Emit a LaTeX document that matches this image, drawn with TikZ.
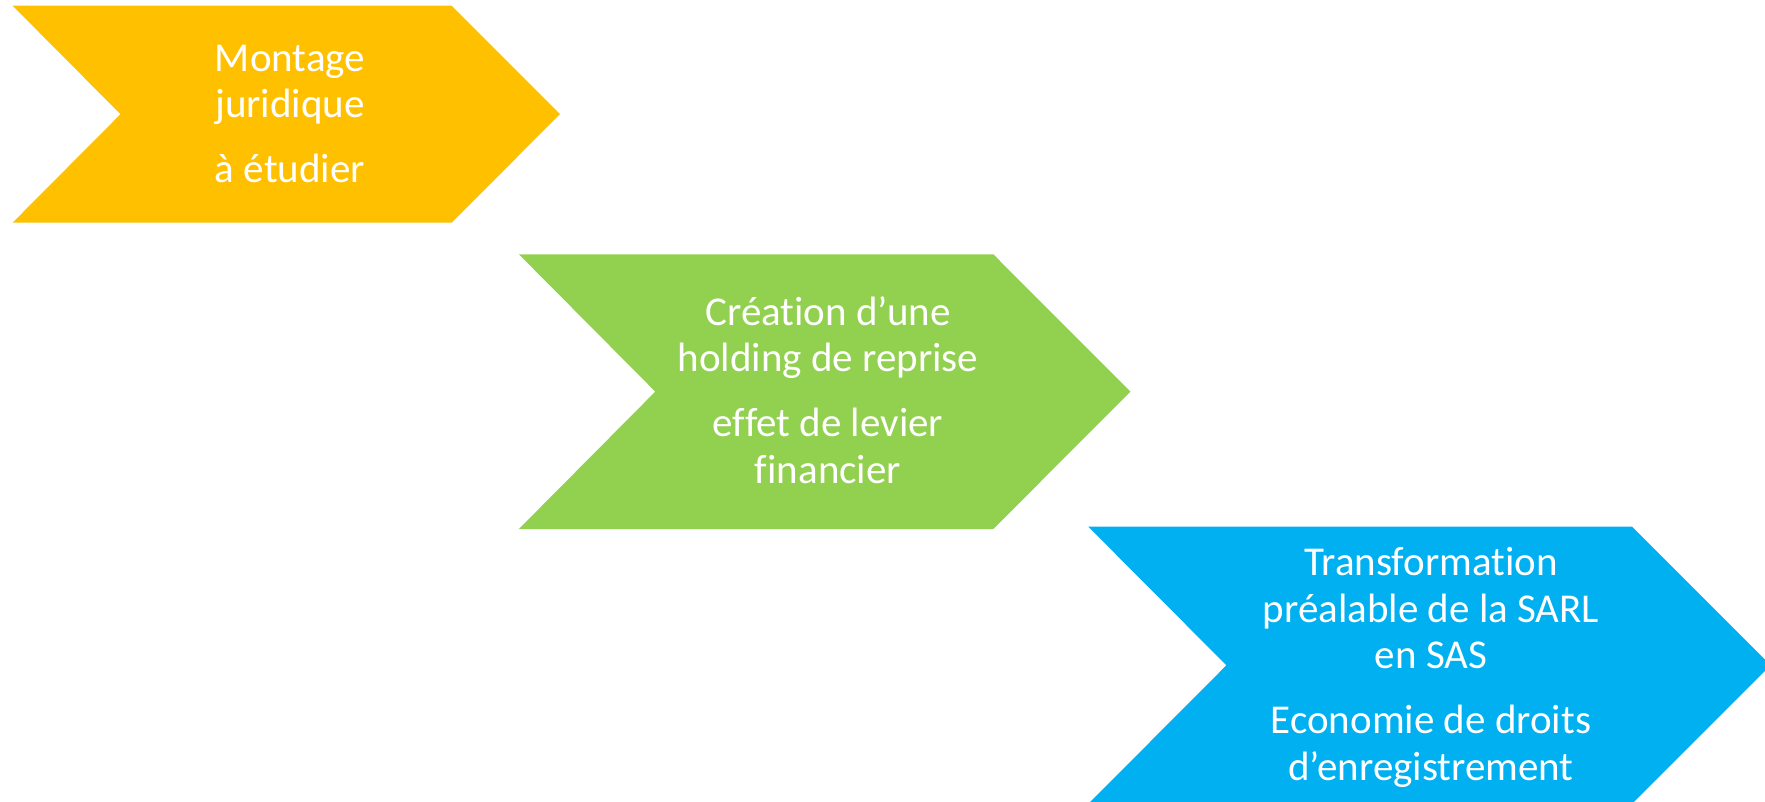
\documentclass[tikz,border=0pt]{standalone}
\usepackage{fontspec}
\setmainfont{Carlito}[RawFeature={-liga}]
\definecolor{jaune}{HTML}{FFC000}
\definecolor{vert}{HTML}{92D050}
\definecolor{bleu}{HTML}{00B0F0}
\tikzset{etape/.style={text=white,align=center,inner sep=0pt,anchor=base,font=\fontsize{41}{46.5}\selectfont}}
\begin{document}
\begin{tikzpicture}[x=1pt,y=-1pt]
		\useasboundingbox (0,0) rectangle (1765,801);
		\fill[jaune] (12.6,5.7) -- (451.6,5.7) -- (560,114.2) -- (451.6,222.7) -- (12.6,222.7) -- (120.5,114.2) -- cycle;
		\fill[vert] (518.9,254.3) -- (993.3,254.3) -- (1130.5,391.6) -- (993.3,529) -- (518.9,529) -- (655.3,391.6) -- cycle;
		\fill[bleu] (1088.3,526.7) -- (1632,526.7) -- (1770.6,665.3) -- (1632,803.9) -- (1088.3,803.9) -- (1226.4,665.3) -- cycle;
		\node[etape] (montage) at (290,182.7) {Montage\\juridique\\[18.5pt]à étudier};
		\node[etape] (holding) at (828,483.3) {Création d’une\\holding de reprise\\[18.5pt]effet de levier\\financier};
		\node[etape] (transfo) at (1431,780) {Transformation\\préalable de la SARL\\en SAS\\[18.5pt]Economie de droits\\d’enregistrement};
	\end{tikzpicture}
\end{document}
